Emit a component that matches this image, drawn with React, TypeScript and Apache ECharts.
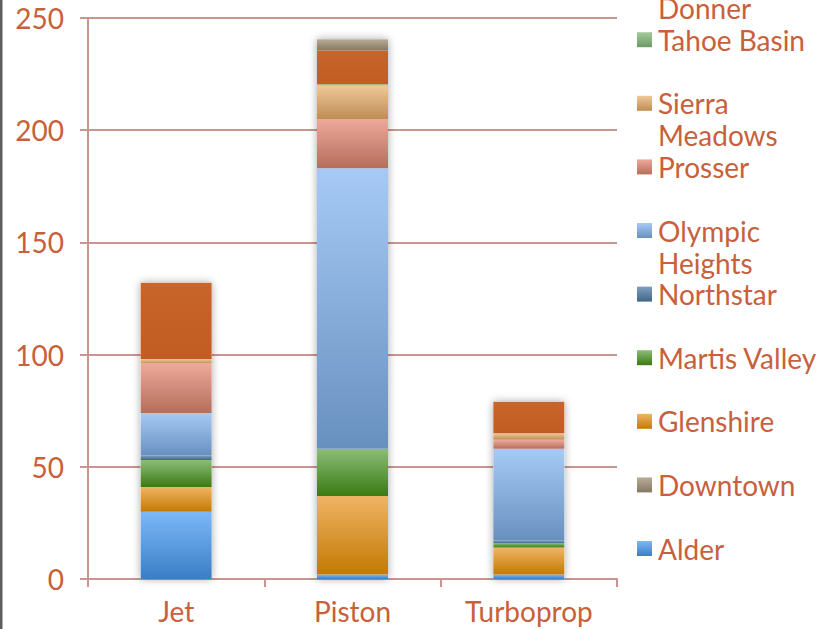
import React, { useEffect, useRef } from "react";
import * as echarts from "echarts";

const categories = ["Jet", "Piston", "Turboprop"];

const alder = [30, 2, 2];
const downtown = [0, 0, 0];
const glenshire = [11, 35, 12];
const martisValley = [12, 21, 2];
const northstar = [2, 0, 1];
const olympicHeights = [19, 125, 41];
const prosser = [22, 22, 4];
const sierraMeadows = [2, 15, 3];
const tahoeBasin = [0, 0.5, 0];
const tahoeDonner = [34, 15, 14];
const other = [0, 5, 0];

const yTicks = { min: 0, max: 250, interval: 50 };

const seriesDefs = [
  { name: "Alder", data: alder, c: ["#7db8f7", "#3a7ec6"], lines: ["Alder"] },
  { name: "Downtown", data: downtown, c: ["#b8ad98", "#857863"], lines: ["Downtown"] },
  { name: "Glenshire", data: glenshire, c: ["#f0b464", "#c47a02"], lines: ["Glenshire"] },
  { name: "Martis Valley", data: martisValley, c: ["#8cbd78", "#3a7b12"], lines: ["Martis Valley"] },
  { name: "Northstar", data: northstar, c: ["#7fa0c0", "#3f6688"], lines: ["Northstar"] },
  { name: "Olympic Heights", data: olympicHeights, c: ["#a6caf5", "#6890bf"], lines: ["Olympic", "Heights"] },
  { name: "Prosser", data: prosser, c: ["#eea99a", "#b56e5b"], lines: ["Prosser"] },
  { name: "Sierra Meadows", data: sierraMeadows, c: ["#f0c898", "#be8d55"], lines: ["Sierra", "Meadows"] },
  { name: "Tahoe Basin", data: tahoeBasin, c: ["#a4ca9b", "#6d9a64"], lines: ["Tahoe Basin"] },
  { name: "Tahoe Donner", data: tahoeDonner, c: ["#c8652a", "#c15c22"], lines: ["Tahoe", "Donner"] },
  { name: "Other", data: other, c: ["#b7ab96", "#857862"], lines: null },
];

const TEXT = "#c8603c";
const LINE = "#c9958c";
const FONT = "Lato";
const FS = 28;

export default function App() {
  const ref = useRef<HTMLDivElement>(null);
  useEffect(() => {
    if (!ref.current) return;
    const chart = echarts.init(ref.current, null, { renderer: "svg" });
    const totals = categories.map((_, i) =>
      seriesDefs.reduce((s, d) => s + d.data[i], 0)
    );
    const barW = 71;
    const series: any[] = [
      {
        name: "__shadow",
        type: "bar",
        data: totals,
        barWidth: barW,
        barGap: "-100%",
        z: 1,
        silent: true,
        itemStyle: {
          color: "#ffffff",
          shadowBlur: 8,
          shadowColor: "rgba(0,0,0,0.35)",
        },
      },
      ...seriesDefs.map((d) => ({
        name: d.name,
        type: "bar",
        stack: "total",
        data: d.data,
        barWidth: barW,
        barGap: "-100%",
        z: 2,
        itemStyle: {
          color: new echarts.graphic.LinearGradient(0, 0, 0, 1, [
            { offset: 0, color: d.c[0] },
            { offset: 1, color: d.c[1] },
          ]),
        },
      })),
    ];
    const legends: any[] = [];
    let idx = 0;
    seriesDefs.forEach((d) => {
      if (!d.lines) return;
      const center = 548.5 - idx * 63.6;
      idx++;
      const two = d.lines.length > 1;
      const txt = two ? "\n" + d.lines[0] + "\n" + d.lines[1] : d.lines[0];
      legends.push({
        orient: "vertical",
        left: 637,
        top: center - (two ? 48 : 16),
        padding: 0,
        itemWidth: 15,
        itemHeight: 15,
        itemGap: 0,
        icon: "rect",
        data: [d.name],
        formatter: () => txt,
        textStyle: {
          color: TEXT,
          fontSize: FS,
          fontFamily: FONT,
          lineHeight: 32,
          padding: [0, 0, 0, 1],
        },
      });
    });
    chart.setOption({
      animation: false,
      grid: { left: 88, right: 211, top: 18, bottom: 50, containLabel: false },
      legend: legends,
      xAxis: {
        type: "category",
        data: categories,
        axisLine: { show: true, lineStyle: { color: LINE, width: 2 } },
        axisTick: { show: true, length: 8, lineStyle: { color: LINE, width: 2 } },
        axisLabel: { color: TEXT, fontSize: FS, fontFamily: FONT, margin: 18 },
        splitLine: { show: false },
      },
      yAxis: {
        type: "value",
        min: yTicks.min,
        max: yTicks.max,
        interval: yTicks.interval,
        axisLine: { show: true, lineStyle: { color: LINE, width: 2 } },
        axisTick: { show: true, length: 8, lineStyle: { color: LINE, width: 2 } },
        axisLabel: { color: TEXT, fontSize: FS, fontFamily: FONT, margin: 24 },
        splitLine: { show: true, lineStyle: { color: LINE, width: 2 } },
      },
      graphic: [
        {
          type: "rect",
          left: 0,
          top: 0,
          shape: { x: 0, y: 0, width: 2.5, height: 629 },
          style: { fill: "#5e5e5e" },
          silent: true,
        },
      ],
      series,
    });
    return () => chart.dispose();
  }, []);
  return (
    <div
      ref={ref}
      style={{ position: "absolute", left: 0, top: 0, width: 828, height: 629, background: "#ffffff" }}
    />
  );
}
